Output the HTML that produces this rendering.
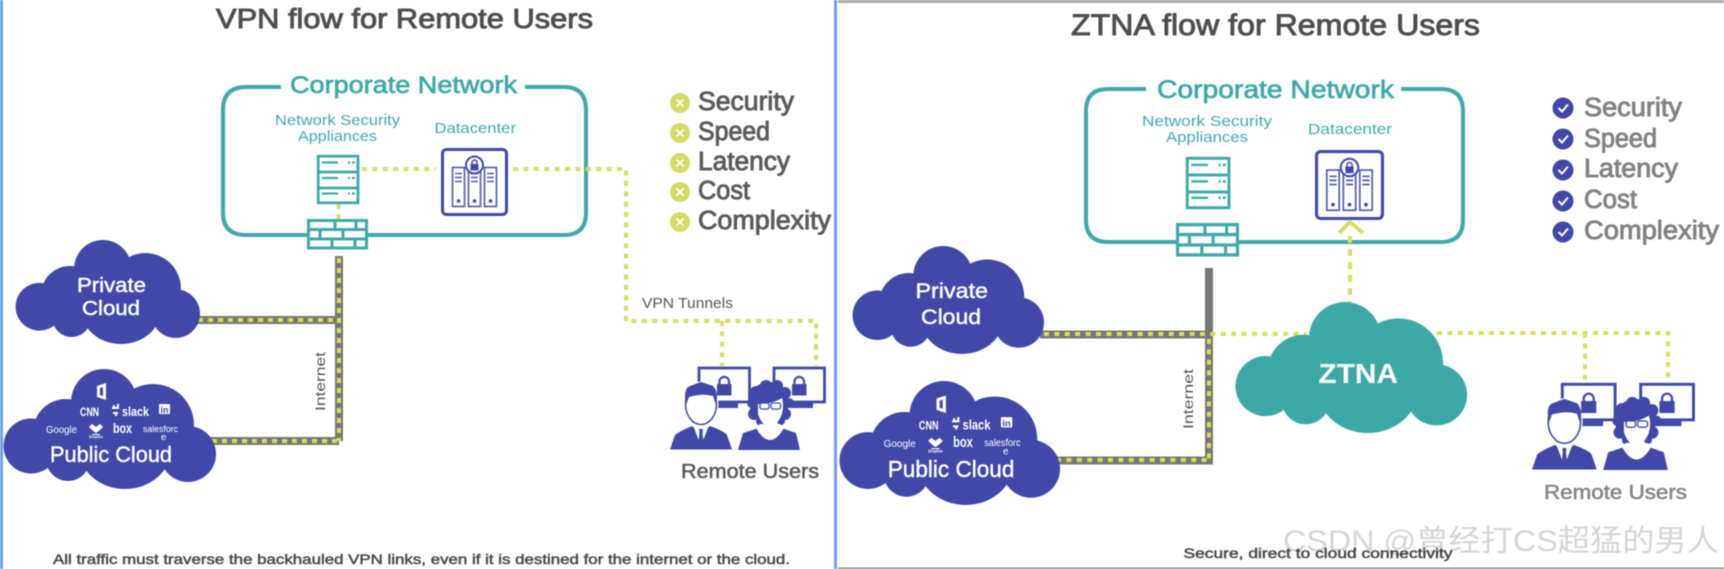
<!DOCTYPE html>
<html><head><meta charset="utf-8"><title>VPN vs ZTNA flow</title>
<style>
html,body{margin:0;padding:0;background:#fff;width:1724px;height:569px;overflow:hidden}
svg{display:block;filter:blur(.45px)}
text{font-family:"Liberation Sans","Noto Sans CJK SC",sans-serif}
.s{stroke:currentColor;stroke-width:.9px}
</style></head><body>
<svg xmlns="http://www.w3.org/2000/svg" width="1724" height="569" viewBox="0 0 1724 569">
<defs>
<g id="cloud">
<circle cx="100" cy="33" r="33"/><circle cx="149" cy="56" r="41"/><circle cx="62" cy="63" r="33"/>
<circle cx="27" cy="77" r="27.500"/><circle cx="184" cy="85" r="28"/><ellipse cx="121" cy="80" rx="46" ry="40"/>
<circle cx="64" cy="90" r="22"/><rect x="50" y="45" width="120" height="50"/>
</g>
<g id="server" fill="none" stroke="#3fa9a8" stroke-width="2.800">
<rect x="1.200" y="1.200" width="39.800" height="46.600" fill="#fff"/>
<path d="M1 17H41M1 33H41"/>
<path d="M5 7.500H21M5 23H21M5 38.500H21" stroke-width="2.200"/>
<path d="M31 7.500H33M35 7.500H38M31 23H33M35 23H38M31 38.500H33M35 38.500H38" stroke-width="2.200"/>
</g>
<g id="firewall" fill="none" stroke="#3fa9a8" stroke-width="3">
<rect x="1.500" y="1.500" width="58" height="27.500" fill="#fff"/>
<path d="M1 10.500H60M1 20H60M28 1V10.500M49 1V10.500M13 10.500V20M36 10.500V20M25 20V29M48 20V29"/>
</g>
<g id="dc">
<rect x="1.500" y="1.500" width="64" height="65" rx="4" fill="#fff" stroke="#4148a8" stroke-width="3"/>
<g fill="#fff" stroke="#5158b0" stroke-width="1.600">
<rect x="11.500" y="19.500" width="12" height="39"/><rect x="27.500" y="19.500" width="12" height="39"/><rect x="43.500" y="19.500" width="12" height="39"/>
</g>
<path d="M14 25.500H21M14 29.500H21M14 33.500H21M30 25.500H37M30 29.500H37M30 33.500H37M46 25.500H53M46 29.500H53M46 33.500H53" stroke="#5158b0" stroke-width="1.600"/>
<circle cx="17.500" cy="53" r="1.800" fill="#4148a8"/><circle cx="33.500" cy="53" r="1.800" fill="#4148a8"/><circle cx="49.500" cy="53" r="1.800" fill="#4148a8"/>
<circle cx="33.500" cy="17" r="8.500" fill="#fff" stroke="#4148a8" stroke-width="2"/>
<rect x="29.500" y="16" width="8" height="6.500" fill="#4148a8"/>
<path d="M31 16V14.500A2.500 2.500 0 0 1 36 14.500V16" fill="none" stroke="#4148a8" stroke-width="1.500"/>
</g>
<g id="lock">
<rect x="0" y="9" width="14.500" height="11.500" fill="#4148a8"/>
<path d="M2.500 9V6A4.800 4.800 0 0 1 12 6V9" fill="none" stroke="#4148a8" stroke-width="2.200"/>
</g>
<g id="users">
<rect x="699" y="368" width="50.500" height="34" fill="#fff" stroke="#4148a8" stroke-width="2.800"/>
<rect x="774" y="368" width="50.500" height="34" fill="#fff" stroke="#4148a8" stroke-width="2.800"/>
<rect x="708" y="403" width="30" height="5" fill="#4148a8"/><rect x="783" y="403" width="30" height="5" fill="#4148a8"/>
<use href="#lock" x="717" y="375"/><use href="#lock" x="792" y="375"/>
<ellipse cx="701" cy="404" rx="17.500" ry="22.500" fill="#fff"/>
<ellipse cx="701" cy="404" rx="15.500" ry="20.500" fill="#fff" stroke="#4148a8" stroke-width="1.500"/>
<path d="M686 405Q683 388 690 386L701 382L713 386Q719 392 716 405L713 396Q702 393 689 397Z" fill="#4148a8"/>
<path d="M670 449.500L675 435Q680 431 692 426L701 433L710 426Q724 431 727 435L732 449.500Z" fill="#4148a8"/>
<path d="M693 425L699 441H703L709 425L701 431Z" fill="#fff"/>
<path d="M699 429H703L702.500 433L703.500 441L701 444L698.500 441L699.500 433Z" fill="#4148a8"/>
<g fill="#4148a8">
<circle cx="769" cy="402" r="20"/><circle cx="756" cy="392" r="6"/><circle cx="766" cy="386" r="6"/><circle cx="777" cy="386" r="6"/><circle cx="785" cy="393" r="6"/><circle cx="789" cy="403" r="5"/><circle cx="785" cy="414" r="6"/><circle cx="752" cy="403" r="5"/><circle cx="754" cy="414" r="6"/><circle cx="761" cy="421" r="5"/><circle cx="781" cy="421" r="4"/>
<path d="M738 450L743 433Q750 431 758 428H782Q790 431 796 433L800 450Z"/>
</g>
<path d="M758 404Q770 405 782 398Q784 405 782 414Q777 426 770 427Q762 426 758 414Z" fill="#fff"/>
<path d="M756 428Q770 452 784 428L780 424H760Z" fill="#fff"/>
<rect x="760" y="403" width="9" height="6" rx="2" fill="#fff" stroke="#4148a8" stroke-width="1.300"/>
<rect x="771" y="403" width="9.500" height="6" rx="2" fill="#fff" stroke="#4148a8" stroke-width="1.300"/>
</g>
<g id="logos" fill="#fff">
<path d="M97 386L106 383V400L97 397ZM100 388V395L103 396V387Z" fill-rule="evenodd"/>
<text x="80" y="416" font-size="12" font-weight="700" textLength="19" lengthAdjust="spacingAndGlyphs">CNN</text>
<path d="M112 407h5v2h-5zM113 412h5v2h-5zM117 404h2v5h-2zM113 405h2v2h-2zM115 412h2v4h-2z"/>
<text x="122" y="416" font-size="13" font-weight="700" textLength="27" lengthAdjust="spacingAndGlyphs">slack</text>
<rect x="159" y="404" width="11" height="10" rx="1"/>
<text x="160.500" y="413" font-size="9" font-weight="700" fill="#4148a8" textLength="8" lengthAdjust="spacingAndGlyphs">in</text>
<text x="46" y="433" font-size="10" textLength="31" lengthAdjust="spacingAndGlyphs">Google</text>
<path d="M92 424L96 427L92 430L89 427ZM100 424L103 427L100 430L96 427ZM92 430L96 433L100 430L96 427ZM92 434H100V435H92Z"/>
<text x="89" y="438" font-size="4" font-weight="700" textLength="14" lengthAdjust="spacingAndGlyphs">Dropbox</text>
<text x="113" y="433" font-size="14" font-weight="700" textLength="19" lengthAdjust="spacingAndGlyphs">box</text>
<text x="143" y="432" font-size="9.500" textLength="35" lengthAdjust="spacingAndGlyphs">salesforc</text>
<text x="161" y="440" font-size="9.500">e</text>
<text x="50" y="462" font-size="22" class="s" style="stroke-width:.4px;color:#fff" textLength="122" lengthAdjust="spacingAndGlyphs">Public Cloud</text>
</g>
</defs>

<!-- frame -->
<rect x="0" y="0" width="3" height="569" fill="#6f9fe2"/>
<rect x="834" y="0" width="3" height="569" fill="#6f9fe2"/>
<rect x="838" y="0" width="886" height="3" fill="#a8a8a8"/>
<rect x="838" y="567.500" width="886" height="1.500" fill="#8a8a8a"/>

<!-- LEFT PANEL -->
<text x="216" y="28" font-size="28" class="s" fill="#4e4e4e" style="color:#4e4e4e" textLength="377" lengthAdjust="spacingAndGlyphs">VPN flow for Remote Users</text>
<path d="M281 87H246Q223 87 223 110V213Q223 235 246 235H564Q586 235 586 213V110Q586 87 564 87H525" fill="none" stroke="#3fa9a8" stroke-width="4"/>
<text x="290" y="93" font-size="24.500" class="s" fill="#3fa9a8" style="color:#3fa9a8;stroke-width:.7px" textLength="227" lengthAdjust="spacingAndGlyphs">Corporate Network</text>
<text x="275" y="125" font-size="15" fill="#3fa9a8" textLength="125" lengthAdjust="spacingAndGlyphs">Network Security</text>
<text x="298" y="141" font-size="15" fill="#3fa9a8" textLength="79" lengthAdjust="spacingAndGlyphs">Appliances</text>
<text x="434.500" y="133" font-size="15" fill="#3fa9a8" textLength="81.500" lengthAdjust="spacingAndGlyphs">Datacenter</text>

<g fill="none" stroke="#d6dd63" stroke-width="4" stroke-dasharray="5 5.400">
<path d="M362 169H436"/><path d="M513 169H626V321H816V366"/><path d="M722 321V366"/><path d="M338.500 204V219"/>
</g>
<use href="#server" x="317" y="155"/>
<use href="#dc" x="441" y="148"/>
<use href="#firewall" x="307" y="219"/>

<path d="M339 256V441M195 320H339M210 441H339" fill="none" stroke="#777" stroke-width="8"/>
<g fill="none" stroke="#d9df55" stroke-width="4" stroke-dasharray="5 5">
<path d="M339 258V441"/><path d="M198 320H339"/><path d="M212 441H339"/>
</g>
<text transform="translate(325,411) rotate(-90)" font-size="14" fill="#555" textLength="59" lengthAdjust="spacingAndGlyphs">Internet</text>

<use href="#cloud" fill="#4148a8" transform="translate(16,240) scale(.868,.867)"/>
<text x="77" y="292" font-size="20" class="s" fill="#fff" style="color:#fff;stroke-width:.45px" textLength="69" lengthAdjust="spacingAndGlyphs">Private</text>
<text x="82" y="315" font-size="20" class="s" fill="#fff" style="color:#fff;stroke-width:.45px" textLength="58" lengthAdjust="spacingAndGlyphs">Cloud</text>
<use href="#cloud" fill="#4148a8" transform="translate(4,369)"/>
<use href="#logos"/>

<text x="642" y="308" font-size="14.500" fill="#555" textLength="91" lengthAdjust="spacingAndGlyphs">VPN Tunnels</text>
<use href="#users"/>
<text x="681" y="478" font-size="20" class="s" fill="#5a5a5a" style="color:#5a5a5a;stroke-width:.55px" textLength="138" lengthAdjust="spacingAndGlyphs">Remote Users</text>
<text x="53" y="564" font-size="14" class="s" fill="#4a4a4a" style="color:#4a4a4a;stroke-width:.5px" textLength="737" lengthAdjust="spacingAndGlyphs">All traffic must traverse the backhauled VPN links, even if it is destined for the internet or the cloud.</text>

<g fill="#d5dc66">
<circle cx="680" cy="103" r="10"/><circle cx="680" cy="133" r="10"/><circle cx="680" cy="163" r="10"/><circle cx="680" cy="192" r="10"/><circle cx="680" cy="222" r="10"/>
</g>
<path d="M676.500 99.500l7 7m0-7l-7 7M676.500 129.500l7 7m0-7l-7 7M676.500 159.500l7 7m0-7l-7 7M676.500 188.500l7 7m0-7l-7 7M676.500 218.500l7 7m0-7l-7 7" stroke="#fff" stroke-width="1.800"/>
<g font-size="25.500" class="s" fill="#5b5b5b" style="color:#5b5b5b">
<text x="698" y="110" textLength="96" lengthAdjust="spacingAndGlyphs">Security</text>
<text x="698" y="140" textLength="72" lengthAdjust="spacingAndGlyphs">Speed</text>
<text x="698" y="170" textLength="92" lengthAdjust="spacingAndGlyphs">Latency</text>
<text x="698" y="199" textLength="52" lengthAdjust="spacingAndGlyphs">Cost</text>
<text x="698" y="229" textLength="133" lengthAdjust="spacingAndGlyphs">Complexity</text>
</g>

<!-- RIGHT PANEL -->
<text x="1071" y="35" font-size="29.500" class="s" fill="#4e4e4e" style="color:#4e4e4e" textLength="409" lengthAdjust="spacingAndGlyphs">ZTNA flow for Remote Users</text>
<path d="M1146 89H1108Q1086 89 1086 111V220Q1086 242 1108 242H1441Q1463 242 1463 220V111Q1463 89 1441 89H1401" fill="none" stroke="#3fa9a8" stroke-width="4"/>
<text x="1157" y="98" font-size="25" class="s" fill="#3fa9a8" style="color:#3fa9a8;stroke-width:.7px" textLength="237" lengthAdjust="spacingAndGlyphs">Corporate Network</text>
<text x="1142" y="126" font-size="15" fill="#3fa9a8" textLength="130" lengthAdjust="spacingAndGlyphs">Network Security</text>
<text x="1166" y="142" font-size="15" fill="#3fa9a8" textLength="82" lengthAdjust="spacingAndGlyphs">Appliances</text>
<text x="1308" y="134" font-size="15" fill="#3fa9a8" textLength="84" lengthAdjust="spacingAndGlyphs">Datacenter</text>
<use href="#server" transform="translate(1186,157) scale(1.048,1.061)"/>
<use href="#dc" transform="translate(1315,150) scale(1.030,1.030)"/>
<use href="#firewall" transform="translate(1176,223) scale(1.033,1.100)"/>
<path d="M1339 233L1350 222L1363 233" fill="none" stroke="#d6dd63" stroke-width="4"/>
<path d="M1350 236V302" fill="none" stroke="#d6dd63" stroke-width="4" stroke-dasharray="7 6"/>

<path d="M1209 268V460.500M1040 334.500H1213M1055 460.500H1213" fill="none" stroke="#777" stroke-width="8"/>
<g fill="none" stroke="#d9df55" stroke-width="4" stroke-dasharray="5 5.400">
<path d="M1044 334H1306"/><path d="M1209 339V460"/><path d="M1056 460H1209"/>
<path d="M1437 333H1668V382"/><path d="M1585 333V382"/>
</g>
<text transform="translate(1193,429) rotate(-90)" font-size="14" fill="#555" textLength="60" lengthAdjust="spacingAndGlyphs">Internet</text>

<use href="#cloud" fill="#4148a8" transform="translate(853,246) scale(.901,.900)"/>
<text x="915.500" y="298" font-size="21" class="s" fill="#fff" style="color:#fff;stroke-width:.45px" textLength="72.500" lengthAdjust="spacingAndGlyphs">Private</text>
<text x="921" y="324" font-size="21" class="s" fill="#fff" style="color:#fff;stroke-width:.45px" textLength="60" lengthAdjust="spacingAndGlyphs">Cloud</text>
<use href="#cloud" fill="#4148a8" transform="translate(840,381) scale(1.038,1.033)"/>
<g transform="translate(840,381) scale(1.038,1.033) translate(-4,-369)"><use href="#logos"/></g>

<use href="#cloud" fill="#3da9a7" transform="translate(1236,302) scale(1.090,1.092)"/>
<text x="1318.500" y="383" font-size="28" font-weight="700" fill="#fff" textLength="79.500" lengthAdjust="spacingAndGlyphs">ZTNA</text>

<g transform="translate(1532,470) scale(1.045) translate(-670,-450)"><use href="#users"/></g>
<text x="1544" y="499" font-size="20" class="s" fill="#868686" style="color:#868686;stroke-width:.55px" textLength="143" lengthAdjust="spacingAndGlyphs">Remote Users</text>
<text x="1183.500" y="558" font-size="14" class="s" fill="#4a4a4a" style="color:#4a4a4a;stroke-width:.5px" textLength="269" lengthAdjust="spacingAndGlyphs">Secure, direct to cloud connectivity</text>

<g fill="#4148a8">
<circle cx="1563" cy="108" r="10.500"/><circle cx="1563" cy="139" r="10.500"/><circle cx="1563" cy="170" r="10.500"/><circle cx="1563" cy="201" r="10.500"/><circle cx="1563" cy="232" r="10.500"/>
</g>
<path d="M1558.500 108l3.500 3.500l6-7M1558.500 139l3.500 3.500l6-7M1558.500 170l3.500 3.500l6-7M1558.500 201l3.500 3.500l6-7M1558.500 232l3.500 3.500l6-7" fill="none" stroke="#fff" stroke-width="2"/>
<g font-size="25.500" class="s" fill="#828282" style="color:#828282">
<text x="1584" y="116" textLength="98" lengthAdjust="spacingAndGlyphs">Security</text>
<text x="1584" y="147" textLength="73" lengthAdjust="spacingAndGlyphs">Speed</text>
<text x="1584" y="177" textLength="94" lengthAdjust="spacingAndGlyphs">Latency</text>
<text x="1584" y="208" textLength="53" lengthAdjust="spacingAndGlyphs">Cost</text>
<text x="1584" y="239" textLength="135" lengthAdjust="spacingAndGlyphs">Complexity</text>
</g>

<text x="1283" y="551" font-size="30" fill="#000" fill-opacity=".17" textLength="436" lengthAdjust="spacingAndGlyphs">CSDN @曾经打CS超猛的男人</text>
</svg>
</body></html>
